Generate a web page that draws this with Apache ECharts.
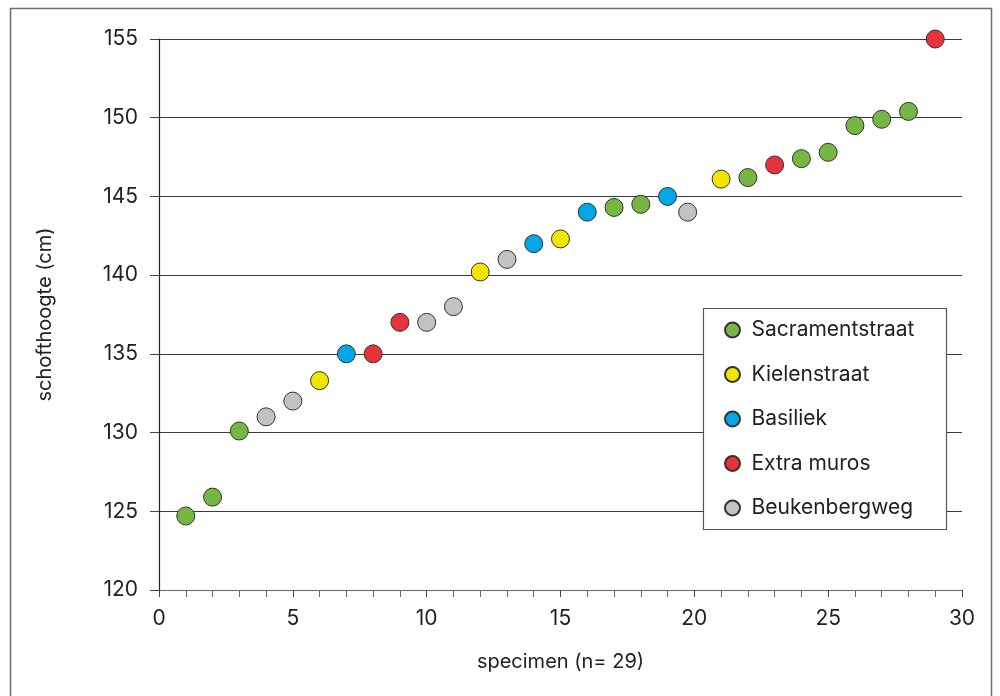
<!DOCTYPE html>
<html>
<head>
<meta charset="utf-8">
<script src="https://cdn.jsdelivr.net/npm/echarts@6/dist/echarts.min.js"></script>
<style>html,body{margin:0;padding:0;background:#fff}#c{width:1000px;height:696px}</style>
</head>
<body>
<div id="c"></div>
<script>
const groups = ['Sacramentstraat', 'Kielenstraat', 'Basiliek', 'Extra muros', 'Beukenbergweg'];
const colors = ['#76b643', '#f2e600', '#00a7e6', '#e6323b', '#c2c2c2'];
const sacramentstraat = [[1, 124.7], [2, 125.9], [3, 130.1], [17, 144.3], [18, 144.5], [22, 146.2], [24, 147.4], [25, 147.8], [26, 149.5], [27, 149.9], [28, 150.4]];
const kielenstraat = [[6, 133.3], [12, 140.2], [15, 142.3], [21, 146.1]];
const basiliek = [[7, 135.0], [14, 142.0], [16, 144.0], [19, 145.0]];
const extraMuros = [[8, 135.0], [9, 137.0], [23, 147.0], [29, 155.0]];
const beukenbergweg = [[4, 131.0], [5, 132.0], [10, 137.0], [11, 138.0], [13, 141.0], [19.75, 144.0]];
const seriesData = [sacramentstraat, kielenstraat, basiliek, extraMuros, beukenbergweg];
const xTicks = [0, 5, 10, 15, 20, 25, 30];
const yTicks = [120, 125, 130, 135, 140, 145, 150, 155];

const font = 'Inter, Roboto, "Noto Sans", sans-serif';
const chart = echarts.init(document.getElementById('c'), null, {renderer: 'canvas'});
chart.setOption({
  animation: false,
  backgroundColor: '#fff',
  textStyle: {fontFamily: font},
  grid: {left: 159, right: 38, top: 39, bottom: 106},
  graphic: [
    {type: 'rect', shape: {x: 10.5, y: 8.5, width: 981, height: 720}, style: {fill: 'none', stroke: '#6e6e6e', lineWidth: 1.5}, z: 0},
    {type: 'rect', shape: {x: 703.5, y: 308.5, width: 243, height: 221}, style: {fill: '#fff', stroke: '#555', lineWidth: 1.2}, z: 5}
  ],
  legend: {
    orient: 'vertical', left: 724, top: 319, padding: 0, z: 10,
    itemWidth: 28, itemHeight: 15, itemGap: 22.5,
    icon: 'circle',
    textStyle: {fontSize: 21, lineHeight: 22, color: '#222', fontFamily: font},
    data: groups
  },
  xAxis: {
    type: 'value', min: xTicks[0], max: xTicks[xTicks.length - 1], interval: 5,
    name: 'specimen (n= 29)', nameLocation: 'middle', nameGap: 62,
    nameTextStyle: {fontSize: 20, color: '#222', fontFamily: font},
    axisLine: {lineStyle: {color: '#666', width: 1.2}},
    axisTick: {show: true, length: 7, lineStyle: {color: '#444'}},
    minorTick: {show: true, splitNumber: 5, length: 7, lineStyle: {color: '#666'}},
    axisLabel: {fontSize: 21, color: '#222', margin: 18, fontFamily: font},
    splitLine: {show: false}
  },
  yAxis: {
    type: 'value', min: yTicks[0], max: yTicks[yTicks.length - 1], interval: 5,
    name: 'schofthoogte (cm)', nameLocation: 'middle', nameGap: 104, nameRotate: 90,
    nameTextStyle: {fontSize: 20, color: '#222', fontFamily: font},
    axisLine: {show: true, lineStyle: {color: '#222', width: 1.2}},
    axisTick: {show: true, length: 9, lineStyle: {color: '#444'}},
    axisLabel: {fontSize: 21, color: '#222', margin: 21, fontFamily: font},
    splitLine: {show: true, lineStyle: {color: '#3a3a3a', width: 1.2}}
  },
  series: groups.map((g, i) => ({
    name: g, type: 'scatter', data: seriesData[i], symbol: 'circle', symbolSize: 18,
    itemStyle: {color: colors[i], borderColor: '#333', borderWidth: 1, opacity: 1},
    z: 3
  }))
});
</script>
</body>
</html>
